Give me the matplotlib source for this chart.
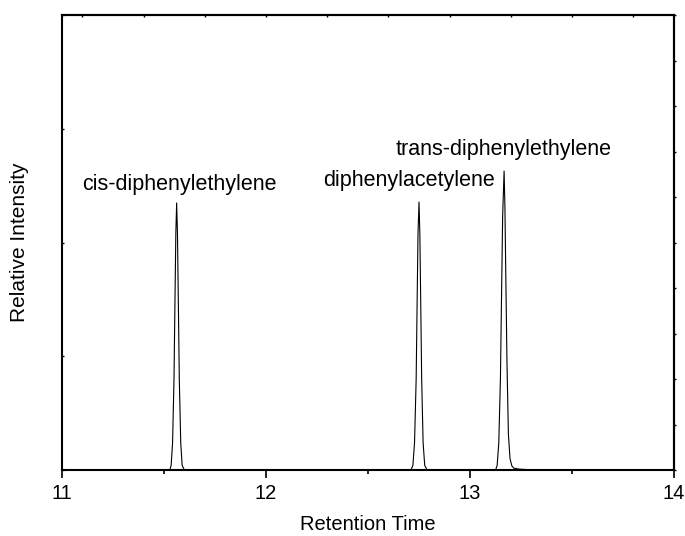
import matplotlib
matplotlib.use('Agg')
import matplotlib.pyplot as plt
from matplotlib.ticker import MultipleLocator, NullFormatter

plt.rcParams['font.family'] = ['Liberation Sans', 'DejaVu Sans']

# chromatogram trace (retention time in min, relative intensity in %)
times = [11.00, 11.528, 11.535, 11.542, 11.549, 11.554, 11.558, 11.562,
         11.566, 11.570, 11.575, 11.582, 11.589, 11.600,
         12.710, 12.720, 12.728, 12.736, 12.741, 12.745, 12.750,
         12.754, 12.758, 12.763, 12.770, 12.778, 12.790,
         13.125, 13.133, 13.141, 13.149, 13.155, 13.160, 13.167,
         13.171, 13.175, 13.181, 13.188, 13.196, 13.205, 13.215, 13.240, 13.300, 14.00]
intensity = [0, 0, 1.0, 6, 20, 38, 52, 58.7,
             52, 38, 20, 6, 1.0, 0,
             0, 1.0, 6, 20, 38, 52, 58.9,
             52, 38, 20, 6, 1.0, 0,
             0, 1.0, 6, 20, 40, 56, 65.7,
             58, 44, 24, 8, 2.5, 0.9, 0.4, 0.2, 0.05, 0]

labels = ['cis-diphenylethylene', 'diphenylacetylene', 'trans-diphenylethylene']
label_x = [11.573, 12.701, 13.167]
label_y = [62.7, 63.6, 70.5]

fig = plt.figure(figsize=(6.85, 5.36), dpi=100)
ax = fig.add_axes([0.0905, 0.1231, 0.8935, 0.8489])

ax.plot(times, intensity, color='black', lw=0.8)

for txt, x, y in zip(labels, label_x, label_y):
    ax.text(x, y, txt, ha='center', va='center', fontsize=15.5)

ax.set_xlim(11, 14)
ax.set_ylim(0, 100)
ax.xaxis.set_major_locator(MultipleLocator(1))
ax.xaxis.set_minor_locator(MultipleLocator(0.5))
ax.yaxis.set_major_locator(MultipleLocator(25))
ax.yaxis.set_minor_formatter(NullFormatter())
ax.set_yticklabels([])
ax.tick_params(axis='x', which='major', direction='out', length=6, width=1.2,
               labelsize=14.5, pad=4)
ax.tick_params(axis='x', which='minor', direction='out', length=3, width=1.2)
ax.tick_params(axis='y', which='major', direction='in', length=1.5, width=1)

# small ticks on right and top spines
ax_r = ax.secondary_yaxis('right')
ax_r.yaxis.set_major_locator(MultipleLocator(10))
ax_r.set_yticklabels([])
ax_r.tick_params(direction='out', length=1.5, width=1)
ax_t = ax.secondary_xaxis('top')
ax_t.xaxis.set_major_locator(MultipleLocator(0.3))
ax_t.set_xticklabels([])
ax_t.tick_params(direction='in', length=1.5, width=1)

for s in ax.spines.values():
    s.set_linewidth(1.5)
ax_r.spines['right'].set_linewidth(1.5)
ax_t.spines['top'].set_linewidth(1.5)

ax.set_xlabel('Retention Time', fontsize=14.5, labelpad=9)
ax.set_ylabel('Relative Intensity', fontsize=15, labelpad=20)

fig.savefig('out.png', dpi=100)
